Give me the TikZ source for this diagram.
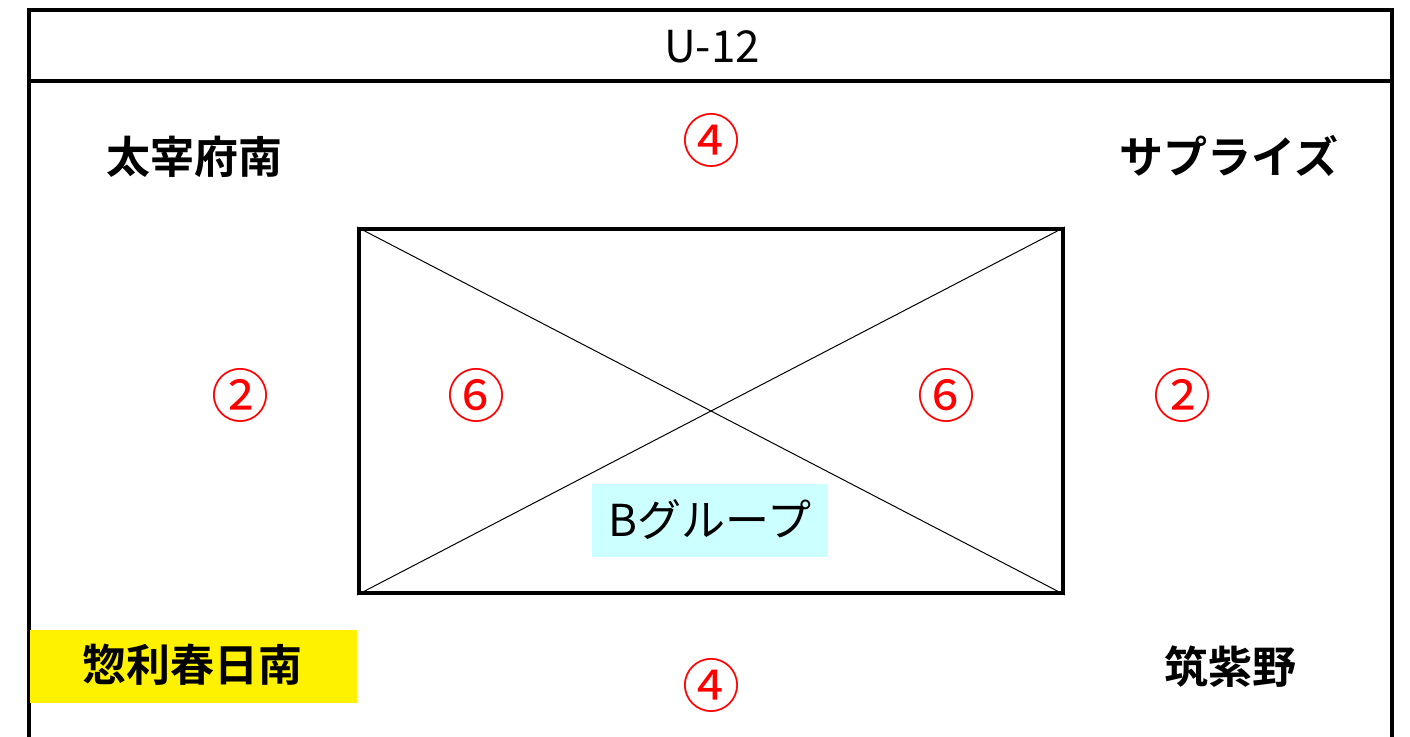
\documentclass[tikz,border=0pt]{standalone}
\usepackage{fontspec}
\setmainfont{Noto Sans CJK JP}[BoldFont={Noto Sans CJK JP Bold}]
\usepackage{xcolor}
\usepackage{tikz}
\definecolor{lightcyan}{HTML}{CCFFFF}
\tikzstyle{team} = [font=\fontsize{22}{22}\selectfont\bfseries, inner sep=0pt]
\tikzstyle{score} = [text=red, font=\fontsize{29}{29}\selectfont, inner sep=0pt]
\tikzstyle{frame} = [draw, line width=2pt]

\begin{document}
\begin{tikzpicture}[x=0.5pt, y=-0.5pt]
    \useasboundingbox (0,0) rectangle (1410,736);

    % 外枠
    \draw [frame] (29,740) -- (29,10) -- (1392,10) -- (1392,740);
    \draw [frame] (29,81) -- (1392,81);
    \node [font=\fontsize{22}{22}\selectfont, inner sep=0pt] (title) at (712,47) {U-12};

    % コート
    \node [frame, rectangle, minimum width=352pt, minimum height=182pt, inner sep=0pt] (court) at (711,411) {};
    \draw [line width=0.5pt] (court.north west) -- (court.south east);
    \draw [line width=0.5pt] (court.south west) -- (court.north east);
    \node [fill=lightcyan, minimum width=118pt, minimum height=36.5pt, inner sep=0pt,
           font=\fontsize{22}{22}\selectfont] (group) at (710,520) {Bグループ};

    % チーム
    \node [team] (tnw) at (194,157) {太宰府南};
    \node [team] (tne) at (1229,156) {サプライズ};
    \node [team] (tse) at (1230,667) {筑紫野};
    \node [fill=yellow, minimum width=163.5pt, minimum height=36.5pt, inner sep=0pt] (hl) at (193.5,666.5) {};
    \node [team] (tsw) at (193,665) {惣利春日南};

    % 数字
    \node [score] (top) at (711,140) {④};
    \node [score] (bot) at (711,685) {④};
    \node [score] (l2) at (240,395) {②};
    \node [score] (l6) at (476,395) {⑥};
    \node [score] (r6) at (946,395) {⑥};
    \node [score] (r2) at (1182,395) {②};
\end{tikzpicture}
\end{document}
